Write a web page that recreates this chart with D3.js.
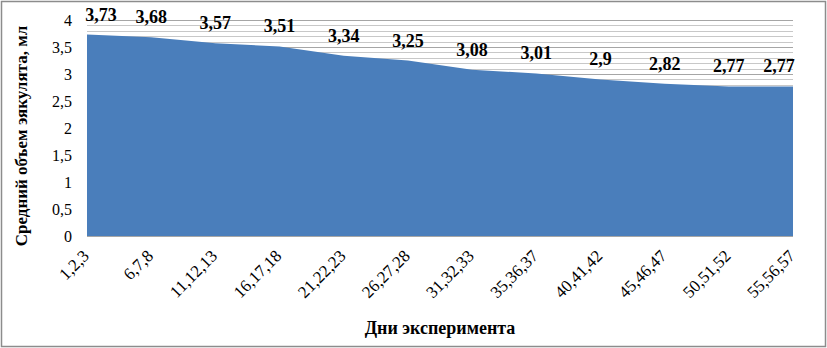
<!DOCTYPE html>
<html>
<head>
    <meta charset="utf-8">
    <script src="https://d3js.org/d3.v7.min.js"></script>
    <style>
        body { margin: 0; background: #fff; }
    </style>
</head>
<body>
<div id="chart"></div>
<script>
    // days of the experiment (categories)
    var days = ["1,2,3", "6,7,8", "11,12,13", "16,17,18", "21,22,23", "26,27,28",
        "31,32,33", "35,36,37", "40,41,42", "45,46,47", "50,51,52", "55,56,57"];
    // mean ejaculate volume, ml
    var volume = [3.73, 3.68, 3.57, 3.51, 3.34, 3.25, 3.08, 3.01, 2.9, 2.82, 2.77, 2.77];
    var yTicks = [0, 0.5, 1, 1.5, 2, 2.5, 3, 3.5, 4];

    var FONT = "Liberation Serif";
    var W = 827, H = 348;
    var margin = { top: 20, right: 34, bottom: 112, left: 87 },
        width = W - margin.left - margin.right,
        height = H - margin.top - margin.bottom;

    var fmt = function (v) { return String(v).replace(".", ","); };

    var root = d3.select("#chart").append("svg")
        .attr("width", W)
        .attr("height", H)
        .attr("font-family", FONT);

    // outer frame
    root.append("rect")
        .attr("x", 1.5).attr("y", 1.5)
        .attr("width", W - 3).attr("height", H - 3)
        .attr("fill", "#fff")
        .attr("stroke", "#8c8c8c")
        .attr("stroke-width", 1.5);

    var svg = root.append("g")
        .attr("transform", "translate(" + margin.left + "," + margin.top + ")");

    var x = d3.scalePoint()
        .domain(days)
        .range([0, width]);

    var y = d3.scaleLinear()
        .domain([0, 4])
        .range([height, 0]);

    // grid every 0.1
    svg.append("g")
        .selectAll("line")
        .data(d3.range(0, 41).map(function (i) { return i / 10; }))
        .enter().append("line")
        .attr("x1", 0).attr("x2", width)
        .attr("y1", function (d) { return Math.round(y(d)) + 0.5; })
        .attr("y2", function (d) { return Math.round(y(d)) + 0.5; })
        .attr("stroke", function (d) { return Math.abs(d * 2 - Math.round(d * 2)) < 1e-6 ? "#a6a6a6" : "#c8c8c8"; })
        .attr("stroke-width", 1);

    // area
    var area = d3.area()
        .x(function (d, i) { return x(days[i]); })
        .y0(height)
        .y1(function (d) { return y(d); });

    svg.append("path")
        .datum(volume)
        .attr("fill", "#4a7ebb")
        .attr("d", area);

    // y axis
    var yAxis = svg.append("g")
        .call(d3.axisLeft(y).tickValues(yTicks).tickSize(0).tickPadding(15).tickFormat(fmt))
        .attr("font-family", FONT)
        .attr("font-size", 16);
    yAxis.select(".domain").remove();
    yAxis.selectAll("text")
        .attr("font-family", FONT)
        .attr("fill", "#000");

    // x axis line
    svg.append("line")
        .attr("x1", 0).attr("x2", width)
        .attr("y1", height + 0.5).attr("y2", height + 0.5)
        .attr("stroke", "#a6a6a6");

    // x tick labels, rotated
    svg.append("g")
        .selectAll("text")
        .data(days)
        .enter().append("text")
        .attr("transform", function (d) {
            return "translate(" + (x(d) + 3) + "," + (height + 21) + ") rotate(-45)";
        })
        .attr("text-anchor", "end")
        .attr("font-family", FONT)
        .attr("font-size", 17)
        .text(function (d) { return d; });

    // data labels
    svg.append("g")
        .selectAll("text")
        .data(volume)
        .enter().append("text")
        .attr("x", function (d, i) {
            var dx = i === 0 ? 14 : (i === volume.length - 1 ? -14 : 0);
            return x(days[i]) + dx;
        })
        .attr("y", function (d) { return y(d) - 14; })
        .attr("text-anchor", "middle")
        .attr("font-family", FONT)
        .attr("font-size", 18)
        .attr("font-weight", "bold")
        .text(fmt);

    // axis titles
    root.append("text")
        .attr("transform", "translate(27,136) rotate(-90)")
        .attr("text-anchor", "middle")
        .attr("font-family", FONT)
        .attr("font-size", 17)
        .attr("font-weight", "bold")
        .text("Средний объем эякулята, мл");

    root.append("text")
        .attr("x", 440)
        .attr("y", 334)
        .attr("text-anchor", "middle")
        .attr("font-family", FONT)
        .attr("font-size", 18)
        .attr("font-weight", "bold")
        .text("Дни эксперимента");
</script>
</body>
</html>
